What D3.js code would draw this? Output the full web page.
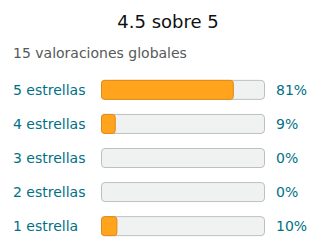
<!DOCTYPE html>
<html><head><meta charset="utf-8">
<script src="https://cdn.jsdelivr.net/npm/d3@7"></script>
<style>body{margin:0;background:#fff;}svg{display:block;font-family:"DejaVu Sans",sans-serif;}</style>
</head><body>
<svg id="c" width="320" height="252"></svg>
<script>
const title = "4.5 sobre 5";
const subtitle = "15 valoraciones globales";
const categories = ["5 estrellas","4 estrellas","3 estrellas","2 estrellas","1 estrella"];
const values = [81, 9, 0, 0, 10];
const valueLabels = ["81%","9%","0%","0%","10%"];

const svg = d3.select("#c");
svg.append("text").attr("x",168).attr("y",28).attr("text-anchor","middle")
  .attr("font-size",18).attr("fill","#0f1111").text(title);
svg.append("text").attr("x",13).attr("y",58)
  .attr("font-size",14).attr("fill","#565959").text(subtitle);

const x = d3.scaleLinear().domain([0,100]).range([101,265]);
const y = d3.scaleBand().domain(categories).range([72,242]).paddingInner(0.41).paddingOuter(0.2);
const h = 20;
const yc = d => y(d) + y.bandwidth()/2 + 1;

const rows = svg.selectAll("g.row").data(categories).enter().append("g");
rows.append("text").attr("x",13).attr("y",d=>yc(d)).attr("dy","0.35em")
  .attr("font-size",14).attr("fill","#007185").text(d=>d);
rows.append("rect").attr("x",x(0)+0.5).attr("y",d=>yc(d)-h/2+0.5)
  .attr("width",x(100)-x(0)-1).attr("height",h-1).attr("rx",3.5)
  .attr("fill","#f0f2f2").attr("stroke","#bcc0c0");
rows.append("rect").attr("x",x(0)+0.5).attr("y",d=>yc(d)-h/2+0.5)
  .attr("width",(d,i)=>Math.max(0,x(values[i])-x(0)-1)).attr("height",h-1).attr("rx",3)
  .attr("fill","#ffa41c").attr("stroke",(d,i)=>values[i]>0?"#e08a14":"none");
rows.append("text").attr("x",276).attr("y",d=>yc(d)).attr("dy","0.35em")
  .attr("font-size",14).attr("fill","#007185").text((d,i)=>valueLabels[i]);
</script>
</body></html>
